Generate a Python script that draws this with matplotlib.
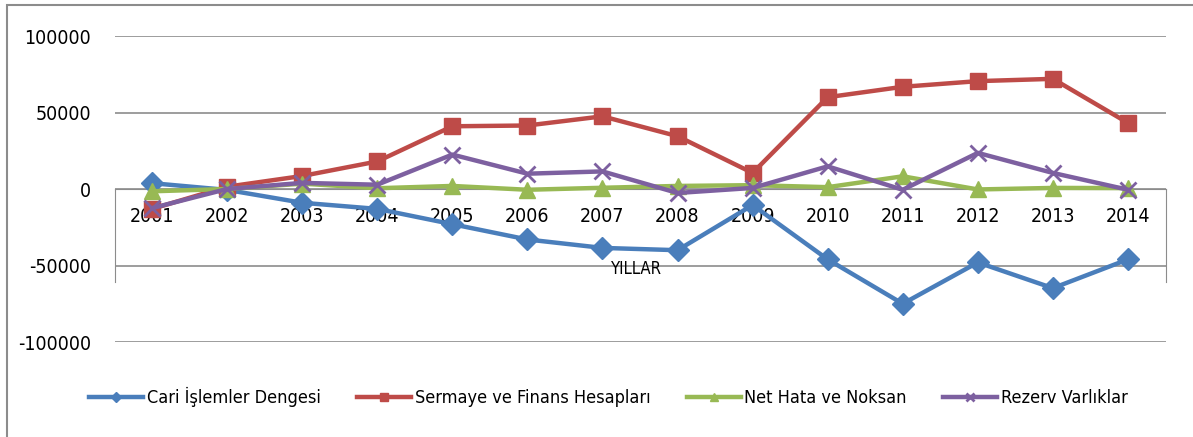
import matplotlib.pyplot as plt
from matplotlib.patches import Rectangle

years = ['2001', '2002', '2003', '2004', '2005', '2006', '2007',
         '2008', '2009', '2010', '2011', '2012', '2013', '2014']

cari = [3800, -600, -9000, -13000, -23000, -33000, -38500,
        -40000, -10500, -46000, -75000, -48000, -64800, -46000]
sermaye = [-13000, 1500, 8500, 18000, 41000, 41500, 47500,
           34500, 10500, 60000, 66800, 70500, 72000, 43200]
net_hata = [-1500, 0, 3500, 500, 2000, -500, 800,
            2000, 2500, 1200, 8300, -300, 700, 600]
rezerv = [-12500, 0, 4000, 2800, 22500, 10000, 11500,
          -2600, 700, 14800, -500, 23600, 10500, -500]

series = [
    ('Cari İşlemler Dengesi', cari, '#4A7EBB', 'D', 11),
    ('Sermaye ve Finans Hesapları', sermaye, '#BE4B48', 's', 11),
    ('Net Hata ve Noksan', net_hata, '#98B954', '^', 12),
    ('Rezerv Varlıklar', rezerv, '#7D60A0', 'x', 12),
]

yticks = [-100000, -50000, 0, 50000, 100000]

plt.rcParams['font.family'] = ['DejaVu Sans']
plt.rcParams['font.stretch'] = 'condensed'

fig = plt.figure(figsize=(11.93, 4.37), dpi=100)
fig.patches.append(Rectangle((7 / 1193, -0.05), 1.2, 1 - 5 / 437 + 0.05,
                             transform=fig.transFigure, fill=False,
                             edgecolor='#8c8c8c', linewidth=1.5))

ax = fig.add_axes([114.5 / 1193, 1 - 342 / 437, (1165.5 - 114.5) / 1193, (342 - 36) / 437])

# category axis sits on the zero line, short side bars below it
ax.spines['top'].set_visible(False)
ax.spines['bottom'].set_position(('data', 0))
ax.spines['bottom'].set_color('#8c8c8c')
for side in ['left', 'right']:
    ax.spines[side].set_bounds(-61000, 0)
    ax.spines[side].set_color('#8c8c8c')

x = list(range(len(years)))
for name, vals, color, marker, ms in series:
    ax.plot(x, vals, color=color, linewidth=3.2, marker=marker, markersize=ms,
            markeredgewidth=2 if marker == 'x' else 1, markeredgecolor=color,
            label=name, clip_on=False, zorder=3)

ax.set_xlim(-0.5, len(years) - 0.5)
ax.set_ylim(-100000, 100000)
ax.set_yticks(yticks)
ax.set_yticklabels([str(v) for v in yticks], fontsize=14)
ax.set_xticks(x)
ax.set_xticklabels(years, fontsize=14)
ax.tick_params(axis='y', length=0, pad=17)
ax.tick_params(axis='x', length=0, pad=13)
ax.grid(axis='y', color='#8c8c8c', linewidth=1.2)
ax.set_axisbelow(True)

ax.text(0.497, 0.24, 'YILLAR', transform=ax.transAxes, ha='center', va='center', fontsize=12)

fig.legend(loc='center', bbox_to_anchor=(0.51, 1 - 397 / 437), ncol=4, frameon=False,
           fontsize=13, handlelength=3.0, columnspacing=2.0, handletextpad=0.2,
           markerscale=0.5)

fig.savefig('out.png', dpi=100)
